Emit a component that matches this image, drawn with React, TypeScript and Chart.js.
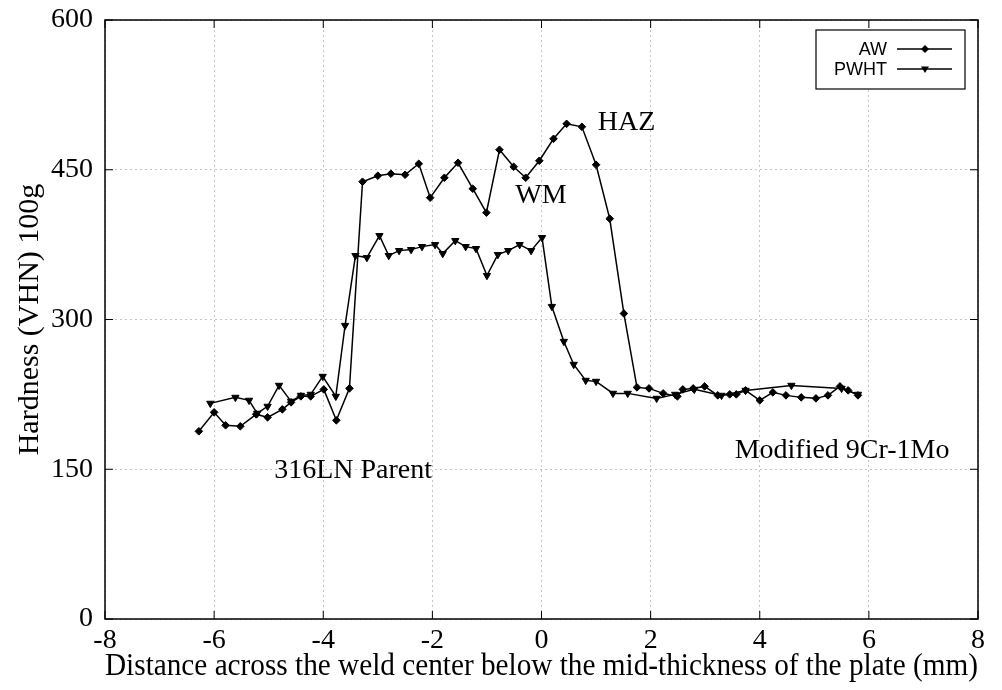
import React, { useEffect, useRef } from "react";
import { Chart, registerables } from "chart.js";

Chart.register(...registerables);

// ---- data ----
const seriesNames = ["AW", "PWHT"];

const awX = [
  -6.28, -6.0, -5.79, -5.52, -5.23, -5.02, -4.75, -4.59, -4.41, -4.23, -3.99, -3.76, -3.52,
  -3.28, -3.0, -2.76, -2.5, -2.25, -2.04, -1.78, -1.53, -1.26, -1.01, -0.77, -0.51, -0.29,
  -0.04, 0.22, 0.46, 0.74, 1.0, 1.25, 1.51, 1.75, 1.97, 2.23, 2.49, 2.59, 2.78, 2.99, 3.23,
  3.45, 3.57, 3.74, 4.0, 4.24, 4.48, 4.76, 5.03, 5.25, 5.47, 5.62, 5.8,
];
const awY = [
  188, 207, 194, 193, 205, 202, 210, 217, 223, 223, 230, 199, 231,
  438, 444, 446, 445, 456, 422, 442, 457, 431, 407, 470, 453, 442,
  459, 481, 496, 493, 455, 401, 306, 232, 231, 226, 223, 230, 231, 233, 224,
  225, 225, 229, 219, 227, 224, 222, 221, 224, 233, 229, 224,
];

const pwhtX = [
  -6.07, -5.61, -5.36, -5.21, -5.02, -4.81, -4.59, -4.41, -4.23, -4.01, -3.77, -3.6, -3.41,
  -3.2, -2.97, -2.8, -2.61, -2.39, -2.19, -1.95, -1.81, -1.58, -1.39, -1.2, -1.0, -0.8,
  -0.61, -0.4, -0.19, 0.01, 0.19, 0.41, 0.59, 0.81, 1.0, 1.31, 1.58, 2.11, 2.45, 2.8,
  3.3, 3.74, 4.58, 5.5, 5.8,
];
const pwhtY = [
  216, 222, 219, 206, 213, 234, 218, 224, 225, 243, 223, 294, 364,
  362, 384, 364, 369, 370, 373, 375, 366, 379, 373, 371, 344, 365,
  369, 375, 369, 382, 313, 278, 255, 239, 238, 226, 226, 221, 225, 230,
  224, 229, 234, 231, 225,
];

const xTicks = [-8, -6, -4, -2, 0, 2, 4, 6, 8];
const yTicks = [0, 150, 300, 450, 600];

const xTitle = "Distance across the weld center below the mid-thickness of the plate (mm)";
const yTitle = "Hardness (VHN) 100g";

const noteTexts = ["HAZ", "WM", "316LN Parent", "Modified 9Cr-1Mo"];
const noteX = [1.03, -0.48, -4.9, 3.54];
const noteY = [490, 417, 141, 161];

// ---- styling ----
const SERIF = '"Liberation Serif", "Times New Roman", serif';
const SANS = '"Liberation Sans", Arial, sans-serif';

const framePlugin = {
  id: "frame",
  afterDraw(chart: any) {
    const { ctx, chartArea: a, scales } = chart;
    const xs = scales.x;
    const ys = scales.y;
    ctx.save();
    ctx.setLineDash([]);
    const seg = (x1: number, y1: number, x2: number, y2: number) => {
      ctx.beginPath();
      ctx.moveTo(x1, y1);
      ctx.lineTo(x2, y2);
      ctx.stroke();
    };
    // frame
    ctx.strokeStyle = "#000";
    ctx.lineWidth = 1.5;
    ctx.strokeRect(a.left, a.top, a.right - a.left, a.bottom - a.top);
    // inward ticks
    const L = 8;
    ctx.lineWidth = 1;
    xTicks.forEach((v) => {
      const px = xs.getPixelForValue(v);
      seg(px, a.bottom, px, a.bottom - L);
      seg(px, a.top, px, a.top + L);
    });
    yTicks.forEach((v) => {
      const py = ys.getPixelForValue(v);
      seg(a.left, py, a.left + L, py);
      seg(a.right, py, a.right - L, py);
    });
    // annotations
    ctx.fillStyle = "#000";
    ctx.font = `28px ${SERIF}`;
    ctx.textAlign = "left";
    ctx.textBaseline = "alphabetic";
    noteTexts.forEach((t, i) => {
      ctx.fillText(t, xs.getPixelForValue(noteX[i]), ys.getPixelForValue(noteY[i]));
    });
    // legend
    const bx = a.right - 162;
    const by = a.top + 10;
    const bw = 149;
    const bh = 59;
    ctx.fillStyle = "#fff";
    ctx.fillRect(bx, by, bw, bh);
    ctx.strokeStyle = "#000";
    ctx.lineWidth = 1.2;
    ctx.strokeRect(bx, by, bw, bh);
    ctx.font = `18px ${SANS}`;
    ctx.textAlign = "right";
    ctx.textBaseline = "middle";
    seriesNames.forEach((name, i) => {
      const yy = by + 19 + i * 20;
      ctx.fillStyle = "#000";
      ctx.fillText(name, bx + 71, yy + 1);
      ctx.lineWidth = 1.5;
      seg(bx + 81, yy, bx + 136, yy);
      const cx = bx + 109;
      ctx.beginPath();
      if (i === 0) {
        const r = 4;
        ctx.moveTo(cx, yy - r);
        ctx.lineTo(cx + r, yy);
        ctx.lineTo(cx, yy + r);
        ctx.lineTo(cx - r, yy);
      } else {
        const r = 4;
        ctx.moveTo(cx - r, yy - r * 0.6);
        ctx.lineTo(cx + r, yy - r * 0.6);
        ctx.lineTo(cx, yy + r);
      }
      ctx.closePath();
      ctx.fill();
    });
    ctx.restore();
  },
};

export default function App() {
  const ref = useRef<HTMLCanvasElement | null>(null);

  useEffect(() => {
    if (!ref.current) return;
    const chart = new Chart(ref.current, {
      type: "scatter",
      data: {
        datasets: [
          {
            label: seriesNames[0],
            data: awX.map((x, i) => ({ x, y: awY[i] })),
            showLine: true,
            borderColor: "#000",
            backgroundColor: "#000",
            borderWidth: 1.5,
            pointStyle: "rectRot",
            pointRadius: 3.8,
            pointBorderWidth: 1,
            tension: 0,
          },
          {
            label: seriesNames[1],
            data: pwhtX.map((x, i) => ({ x, y: pwhtY[i] })),
            showLine: true,
            borderColor: "#000",
            backgroundColor: "#000",
            borderWidth: 1.5,
            pointStyle: "triangle",
            rotation: 180,
            pointRadius: 4.2,
            pointBorderWidth: 1,
            tension: 0,
          },
        ],
      },
      options: {
        responsive: false,
        animation: false,
        events: [],
        layout: { padding: { left: 0, top: 20, right: 24, bottom: 0 } },
        plugins: {
          legend: { display: false },
          tooltip: { enabled: false },
        },
        scales: {
          x: {
            type: "linear",
            min: -8,
            max: 8,
            afterBuildTicks: (s: any) => {
              s.ticks = xTicks.map((v) => ({ value: v }));
            },
            afterFit: (s: any) => {
              s.height = 71;
              s.paddingLeft = 0;
              s.paddingRight = 0;
            },
            ticks: {
              color: "#000",
              font: { family: SERIF, size: 28 },
              padding: 5,
              maxRotation: 0,
              autoSkip: false,
              callback: (v: any) => String(v),
            },
            grid: { color: "#c4c4c4", lineWidth: 1, drawTicks: false },
            border: { display: false, dash: [2, 3] },
            title: {
              display: true,
              text: xTitle,
              color: "#000",
              font: { family: SERIF, size: 31 },
              padding: { top: 0, bottom: 5 },
            },
          },
          y: {
            type: "linear",
            min: 0,
            max: 600,
            afterBuildTicks: (s: any) => {
              s.ticks = yTicks.map((v) => ({ value: v }));
            },
            afterFit: (s: any) => {
              s.width = 105;
              s.paddingTop = 0;
              s.paddingBottom = 0;
            },
            ticks: {
              color: "#000",
              font: { family: SERIF, size: 28 },
              padding: 12,
              autoSkip: false,
              callback: (v: any) => String(v),
            },
            grid: { color: "#c4c4c4", lineWidth: 1, drawTicks: false },
            border: { display: false, dash: [2, 3] },
            title: {
              display: true,
              text: yTitle,
              color: "#000",
              font: { family: SERIF, size: 30 },
              padding: { top: 12, bottom: 0 },
            },
          },
        },
      },
      plugins: [framePlugin],
    } as any);
    return () => chart.destroy();
  }, []);

  return (
    <div style={{ position: "absolute", left: 0, top: 0, width: 1002, height: 690, background: "#fff" }}>
      <canvas ref={ref} width={1002} height={690} style={{ display: "block" }} />
    </div>
  );
}
